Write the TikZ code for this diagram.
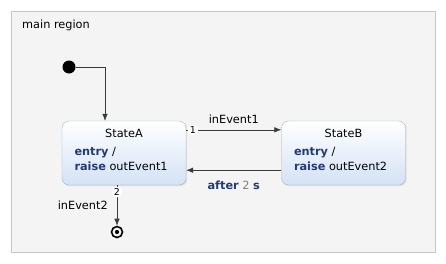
\documentclass[tikz,border=0pt]{standalone}
\usepackage{fontspec}
\setmainfont{DejaVu Sans}
\usepackage{tikz}
\usetikzlibrary{positioning,arrows.meta,shadows}
\definecolor{regionfill}{HTML}{F4F4F4}
\definecolor{regionline}{HTML}{C4C4C4}
\definecolor{stateline}{HTML}{A9B1BD}
\definecolor{statebottom}{HTML}{D3E2F5}
\definecolor{keyword}{HTML}{23397A}
\definecolor{wire}{HTML}{3A3A3A}
\newcommand{\kw}[1]{\textbf{\textcolor{keyword}{#1}}}
\tikzset{
  state/.style={rectangle,rounded corners=7pt,draw=stateline,thin,
    top color=white,bottom color=statebottom,
    minimum width=124pt,minimum height=64pt,inner sep=0pt,
    drop shadow={opacity=0.18,shadow xshift=1.2pt,shadow yshift=-1.2pt}},
  title/.style={font=\fontsize{11.3}{12}\selectfont,inner sep=0pt},
  body/.style={font=\fontsize{11.3}{15}\selectfont,align=left,inner sep=0pt},
  trans/.style={draw=wire,semithick,-{Latex[length=7pt,width=5.5pt]}},
  label/.style={font=\fontsize{11.3}{12}\selectfont,inner sep=1pt},
  prio/.style={circle,fill=white,inner sep=0.5pt,font=\fontsize{9.5}{10}\selectfont}
}
\begin{document}
\begin{tikzpicture}[x=1pt,y=-1pt]
  \useasboundingbox (0,0) rectangle (446,263);
  %
  % Region
  \draw[regionline,fill=regionfill] (11,11) rectangle (435,252);
  \node[label,anchor=base west] (regionname) at (21,28) {main region};
  %
  % Pseudo states
  \node[circle,fill=black,minimum size=13pt,inner sep=0pt] (init) at (69,67) {};
  \node[circle,draw=black,line width=1.6pt,minimum size=11pt,inner sep=0pt] (final) at (117,232) {};
  \fill (final) circle [radius=2.1pt];
  %
  % States
  \node[state] (stateA) at (124,153) {};
  \node[title,below=8pt of stateA.north] (stateAname) {StateA};
  \node[body,anchor=north west] (stateAbody) at ([xshift=12.5pt,yshift=-26pt]stateA.north west)
    {\kw{entry} /\\\kw{raise} outEvent1};
  \node[state] (stateB) at (343.5,153) {};
  \node[title,below=8pt of stateB.north] (stateBname) {StateB};
  \node[body,anchor=north west] (stateBbody) at ([xshift=12.5pt,yshift=-26pt]stateB.north west)
    {\kw{entry} /\\\kw{raise} outEvent2};
  %
  % Transitions
  \draw[trans] (init.east) -| ([xshift=-19pt]stateA.north);
  \draw[trans] ([yshift=-9pt]stateA.north east) -- ([yshift=-9pt]stateB.north west)
    node[prio,pos=0.07] (prioone) {1}
    node[label,pos=0.5,above=5pt] (evone) {inEvent1};
  \draw[trans] ([yshift=15pt]stateB.south west) -- ([yshift=15pt]stateA.south east)
    node[label,pos=0.5,below=9pt] (evafter) {\kw{after} \textcolor{gray}{2} \kw{s}};
  \draw[trans] ([xshift=-7pt]stateA.south) -- (final.north)
    node[prio,pos=0.17] (priotwo) {2}
    node[label,pos=0.5,left=8pt] (evtwo) {inEvent2};
  %
\end{tikzpicture}
\end{document}
